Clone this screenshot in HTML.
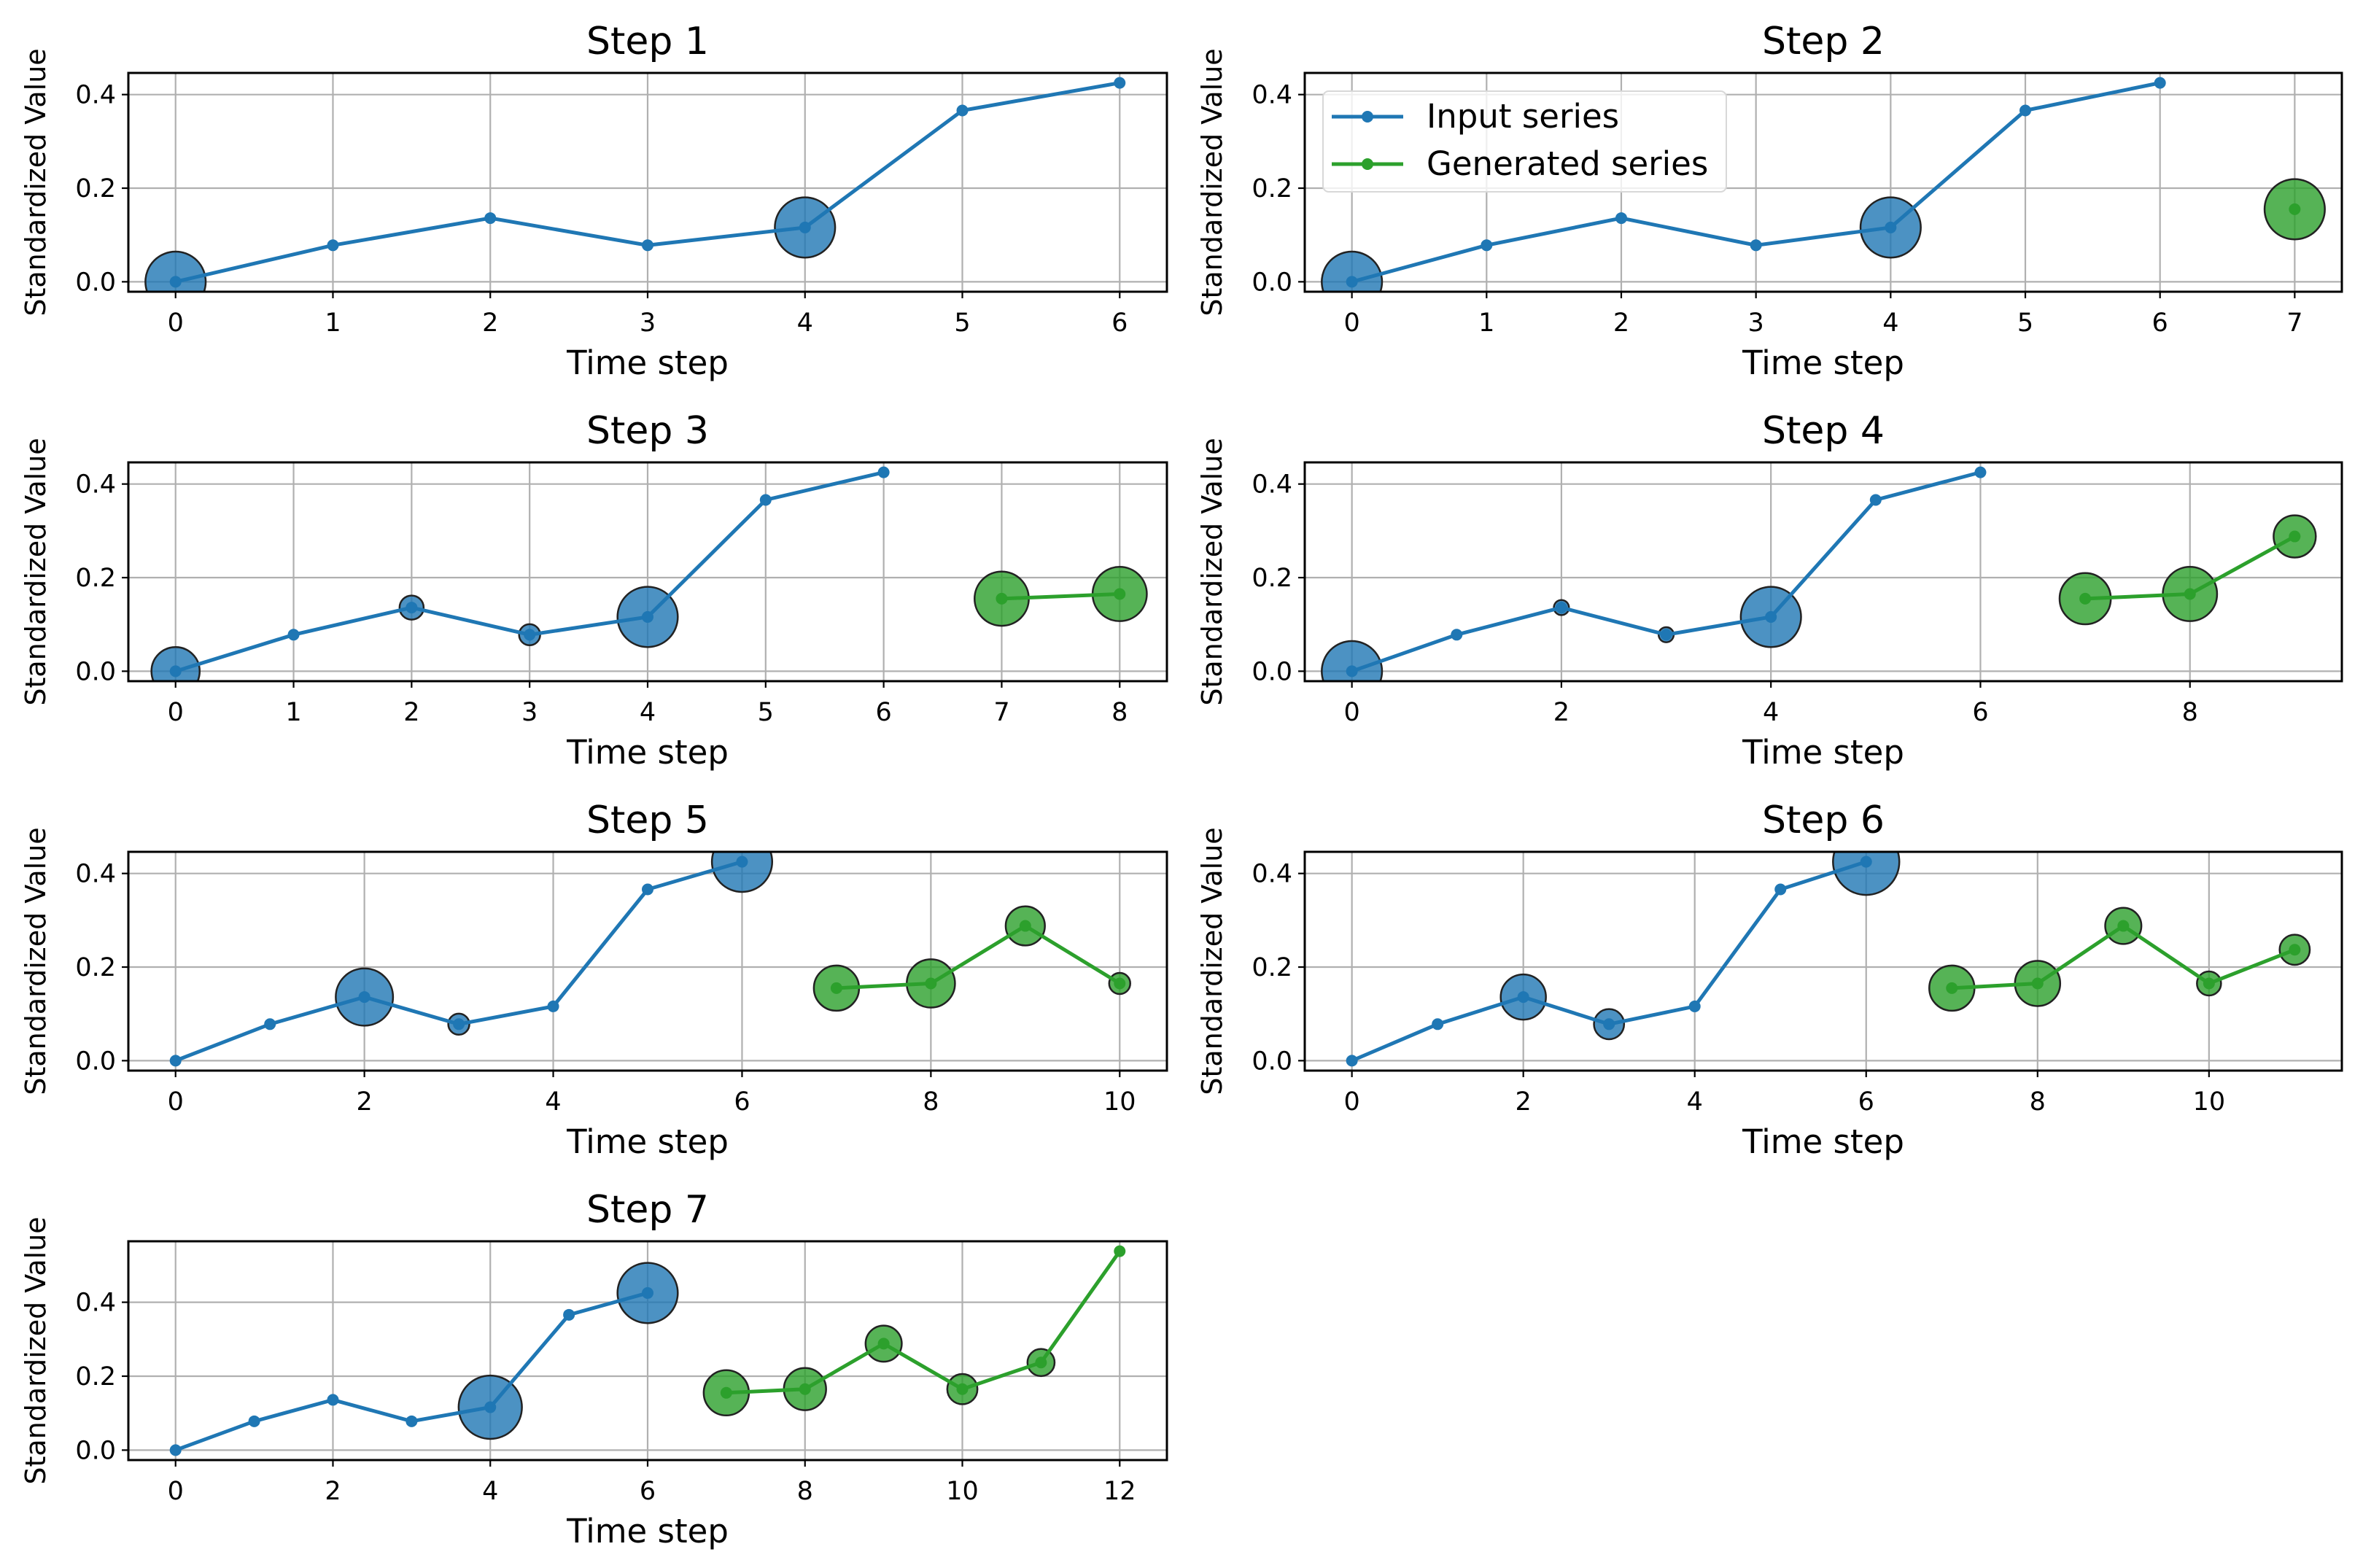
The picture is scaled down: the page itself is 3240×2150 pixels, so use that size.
<!DOCTYPE html>
<html><head><meta charset="utf-8"><style>
html,body{margin:0;padding:0;background:#fff;}
svg{display:block;font-family:"DejaVu Sans","Liberation Sans",sans-serif;}
</style></head><body>
<svg id="fig" width="3240" height="2150" viewBox="0 0 3240 2150" xmlns="http://www.w3.org/2000/svg"></svg>
<script>
const inputValues = [0.0, 0.078, 0.136, 0.078, 0.116, 0.366, 0.425];
const generatedValues = [0.155, 0.165, 0.288, 0.165, 0.237, 0.538];
const stepTitles = ["Step 1","Step 2","Step 3","Step 4","Step 5","Step 6","Step 7"];
const yTickValues = [0.0, 0.2, 0.4];
const yTickLabels = ["0.0","0.2","0.4"];
// highlight circle radii (display px) per step, per time index
const highlightRadii = [
  {0:20,4:20},
  {0:20,4:20,7:20},
  {0:16,2:8,3:7,4:20,7:18,8:18},
  {0:20,2:5,3:5,4:20,7:17,8:18,9:14},
  {2:19,3:7,6:20,7:15,8:16,9:13,10:7},
  {2:15,3:10,6:22,7:15,8:15,9:12,10:8,11:10},
  {4:21,6:20,7:15,8:14,9:12,10:10,11:9}
];

const NS="http://www.w3.org/2000/svg";
const fig=document.getElementById('fig');
const S=2.066;
function mk(tag,attrs,parent){const e=document.createElementNS(NS,tag);for(const k in attrs)e.setAttribute(k,attrs[k]);(parent||fig).appendChild(e);return e;}
const defs=mk('defs',{});
const colL=[176,1789], colW=[1424,1422];
const rowT=[100,634,1168,1702], H=300;

stepTitles.forEach((title,i)=>{
  const col=i%2,row=Math.floor(i/2);
  const L=colL[col],T=rowT[row],W=colW[col];
  const g=mk('g',{});
  
  
  const nGen=i;
  const allVals=inputValues.concat(generatedValues.slice(0,nGen));
  const nPts=allVals.length;
  const xmin=0,xmax=nPts-1,xm=(xmax-xmin)*0.05;
  const ymin=Math.min(...allVals),ymax=Math.max(...allVals),ym=(ymax-ymin)*0.05;
  const X=v=>L+(v-(xmin-xm))/((xmax+xm)-(xmin-xm))*W;
  const Y=v=>T+H-(v-(ymin-ym))/((ymax+ym)-(ymin-ym))*H;
  const cp=mk('clipPath',{id:'clip'+i},defs);
  mk('rect',{x:L,y:T,width:W,height:H},cp);
  const xStep=nPts>9?2:1;
  const xt=[];for(let v=0;v<=xmax;v+=xStep)xt.push(v);
  xt.forEach(v=>{const l=mk('line',{x1:X(v),x2:X(v),y1:T,y2:T+H,stroke:'#b0b0b0','stroke-width':2.2},g);});
  yTickValues.forEach(v=>{const l=mk('line',{x1:L,x2:L+W,y1:Y(v),y2:Y(v),stroke:'#b0b0b0','stroke-width':2.2},g);});
  const cg=mk('g',{'clip-path':'url(#clip'+i+')'},g);
  const hr=highlightRadii[i];
  for(const k in hr){
    const idx=+k;const v=allVals[idx];const gen=idx>=inputValues.length;
    const c=mk('circle',{cx:X(idx),cy:Y(v),r:hr[k]*S,fill:gen?'#2ca02c':'#1f77b4','fill-opacity':0.8,stroke:'#222','stroke-width':2.5},cg);
    
    
  }
  const ip=inputValues.map((v,j)=>X(j)+','+Y(v)).join(' ');
  const pl=mk('polyline',{points:ip,fill:'none',stroke:'#1f77b4','stroke-width':5},cg);
  
  
  inputValues.forEach((v,j)=>{const d=mk('circle',{cx:X(j),cy:Y(v),r:8,fill:'#1f77b4'},cg);});
  if(nGen>0){
    const gv=generatedValues.slice(0,nGen);
    const gp=gv.map((v,j)=>X(j+inputValues.length)+','+Y(v)).join(' ');
    const gl=mk('polyline',{points:gp,fill:'none',stroke:'#2ca02c','stroke-width':5},cg);
    
    
    gv.forEach((v,j)=>{const d=mk('circle',{cx:X(j+inputValues.length),cy:Y(v),r:8,fill:'#2ca02c'},cg);});
  }
  const sp=mk('rect',{x:L,y:T,width:W,height:H,fill:'none',stroke:'#000','stroke-width':3},g);
  
  
  xt.forEach(v=>{
    mk('line',{x1:X(v),x2:X(v),y1:T+H,y2:T+H+9,stroke:'#000','stroke-width':2.2},g);
    const t=mk('text',{x:X(v),y:T+H+54,'font-size':35,'text-anchor':'middle',fill:'#000'},g);
    
    
    t.textContent=String(v);
  });
  yTickValues.forEach((v,j)=>{
    mk('line',{x1:L-9,x2:L,y1:Y(v),y2:Y(v),stroke:'#000','stroke-width':2.2},g);
    const t=mk('text',{x:L-17,y:Y(v)+12,'font-size':35,'text-anchor':'end',fill:'#000'},g);
    
    
    t.textContent=yTickLabels[j];
  });
  const tt=mk('text',{x:L+W/2,y:T-26,'font-size':52,'text-anchor':'middle',fill:'#000'},g);
  
  
  tt.textContent=title;
  const xl=mk('text',{x:L+W/2,y:T+H+113,'font-size':45,'text-anchor':'middle',fill:'#000'},g);
  
  
  xl.textContent='Time step';
  const yx=L-114,yy=T+H/2;
  const yl=mk('text',{x:yx,y:yy,'font-size':38,'text-anchor':'middle',fill:'#000',transform:'rotate(-90 '+yx+' '+yy+')'},g);
  
  
  yl.textContent='Standardized Value';
  if(i===1){
    const lg=mk('g',{},g);
    
    
    mk('rect',{x:1814,y:125,width:553,height:138,rx:8,fill:'#fff','fill-opacity':0.8,stroke:'#d8d8d8','stroke-width':2},lg);
    [['Input series','#1f77b4',160],['Generated series','#2ca02c',225]].forEach(([lab,c,y])=>{
      const e=mk('g',{},lg);
      
      
      mk('line',{x1:1826,x2:1924,y1:y,y2:y,stroke:c,'stroke-width':5},e);
      mk('circle',{cx:1875,cy:y,r:8,fill:c},e);
      const t=mk('text',{x:1956,y:y+15,'font-size':45,fill:'#000'},e);
      t.textContent=lab;
    });
  }
});
</script>
</body></html>
